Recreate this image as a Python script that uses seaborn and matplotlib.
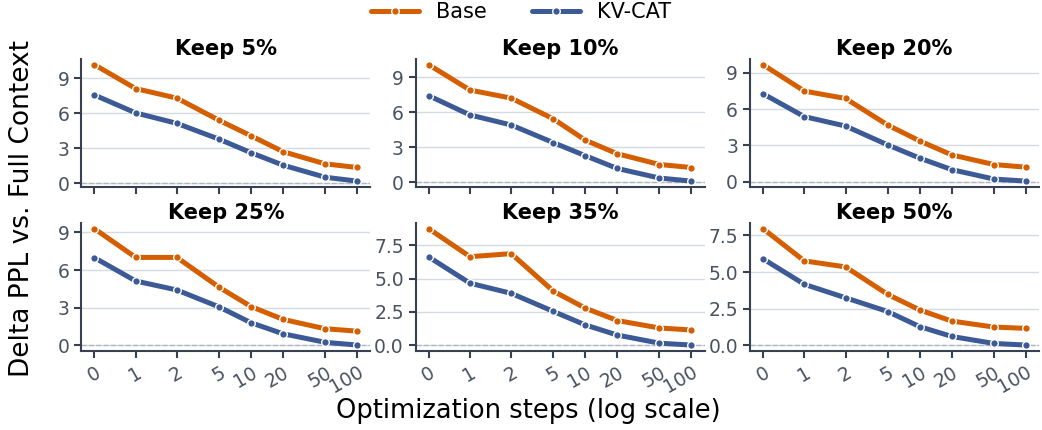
import numpy as np
import pandas as pd
import matplotlib
matplotlib.use("Agg")
import matplotlib.pyplot as plt
from matplotlib.ticker import NullLocator
import seaborn as sns

# Données
STEPS = [0, 1, 2, 5, 10, 20, 50, 100]
STEP_LABELS = ["0", "1", "2", "5", "10", "20", "50", "100"]
KEEP = ["Keep 5%", "Keep 10%", "Keep 20%", "Keep 25%", "Keep 35%", "Keep 50%"]
METHODS = ["Base", "KV-CAT"]

BASE = [
    [10.17, 8.12, 7.30, 5.39, 4.06, 2.70, 1.65, 1.34],
    [10.07, 7.90, 7.21, 5.43, 3.61, 2.45, 1.53, 1.27],
    [9.67, 7.49, 6.88, 4.68, 3.37, 2.22, 1.42, 1.20],
    [9.30, 7.01, 7.01, 4.63, 3.09, 2.07, 1.32, 1.13],
    [8.74, 6.64, 6.87, 4.05, 2.78, 1.85, 1.29, 1.14],
    [7.96, 5.76, 5.35, 3.47, 2.41, 1.65, 1.24, 1.15],
]
KVCAT = [
    [7.57, 6.03, 5.13, 3.77, 2.61, 1.54, 0.50, 0.17],
    [7.42, 5.77, 4.91, 3.40, 2.28, 1.19, 0.37, 0.11],
    [7.27, 5.38, 4.60, 3.04, 1.95, 1.00, 0.22, 0.05],
    [6.99, 5.13, 4.41, 3.06, 1.80, 0.92, 0.24, 0.02],
    [6.62, 4.65, 3.89, 2.53, 1.52, 0.76, 0.15, 0.01],
    [5.90, 4.16, 3.24, 2.30, 1.27, 0.60, 0.12, 0.01],
]
Y_TICKS = [
    [0, 3, 6, 9], [0, 3, 6, 9], [0, 3, 6, 9],
    [0, 3, 6, 9], [0, 2.5, 5, 7.5], [0, 2.5, 5, 7.5],
]

COLORS = {"Base": "#D55E00", "KV-CAT": "#3C5A96"}
SPINE = "#374151"
TICK_TXT = "#4A5262"

# Tableau long pour seaborn
rows = []
for i, keep in enumerate(KEEP):
    for j, s in enumerate(STEPS):
        rows.append({"keep": keep, "steps": s, "method": "Base", "delta": BASE[i][j]})
        rows.append({"keep": keep, "steps": s, "method": "KV-CAT", "delta": KVCAT[i][j]})
df = pd.DataFrame(rows)

sns.set_theme(style="ticks")
plt.rcParams["font.family"] = ["DejaVu Sans"]

fig, axes = plt.subplots(2, 3, figsize=(10.42, 4.30), dpi=100)
fig.subplots_adjust(left=0.078, right=0.997, top=0.863, bottom=0.184,
                    wspace=0.157, hspace=0.281)

for i, ax in enumerate(axes.flat):
    sub = df[df["keep"] == KEEP[i]]
    # échelle symlog avant le tracé pour que les marges soient calculées en espace log
    ax.set_xscale("symlog", linthresh=2, linscale=0.7)
    ax.yaxis.grid(True, color="#D5DAE1", linewidth=1.0, zorder=0)
    sns.lineplot(
        data=sub, x="steps", y="delta", hue="method", hue_order=METHODS,
        palette=COLORS, marker="o", markersize=5.5, markeredgecolor="white",
        markeredgewidth=1.0, linewidth=3.6, ax=ax, legend=(i == 0), zorder=3,
    )
    ax.axhline(0, color="#A0A7B2", linestyle="--", linewidth=1.0, alpha=0.7, zorder=1)
    ax.set_xticks(STEPS)
    if i >= 3:
        ax.set_xticklabels(STEP_LABELS, rotation=30, ha="right",
                           rotation_mode="anchor")
    else:
        ax.set_xticklabels([])
    ax.xaxis.set_minor_locator(NullLocator())
    ax.set_yticks(Y_TICKS[i])
    if Y_TICKS[i][1] == 2.5:
        ax.set_yticklabels([f"{v:.1f}" for v in Y_TICKS[i]])
    ax.set_title(KEEP[i], fontsize=15, fontweight="bold", pad=3, color="black")
    ax.set_xlabel("")
    ax.set_ylabel("")
    ax.tick_params(axis="both", labelsize=13.5, colors=SPINE, labelcolor=TICK_TXT,
                   width=1.5, length=5)
    sns.despine(ax=ax)
    for sp in ["left", "bottom"]:
        ax.spines[sp].set_color(SPINE)
        ax.spines[sp].set_linewidth(1.5)
    if ax.get_legend() is not None:
        handles, labels = ax.get_legend_handles_labels()
        ax.get_legend().remove()

leg = fig.legend(handles, labels, loc="center", bbox_to_anchor=(0.5, 0.972),
                 ncol=2, frameon=False, fontsize=15, handlelength=2.3,
                 columnspacing=2.2)
for t in leg.get_texts():
    t.set_color("black")
fig.text(0.507, 0.045, "Optimization steps (log scale)", ha="center",
         va="center", fontsize=18.5, color="black")
fig.text(0.021, 0.514, "Delta PPL vs. Full Context", ha="center", va="center",
         rotation=90, fontsize=19, color="black")

fig.savefig("out.png", dpi=100)
